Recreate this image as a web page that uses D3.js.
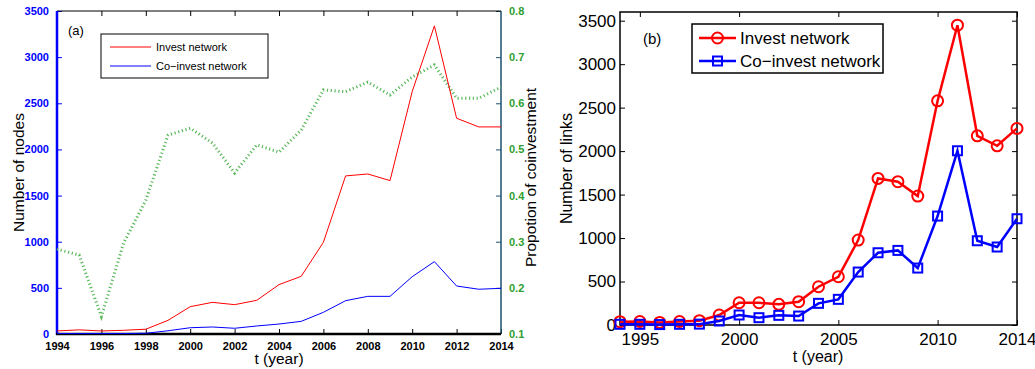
<!DOCTYPE html>
<html>
<head>
<meta charset="utf-8">
<script src="https://cdn.jsdelivr.net/npm/d3@7"></script>
<style>
  body { margin: 0; background: #fff; }
  svg { display: block; }
</style>
</head>
<body>
<div id="chart"></div>
<script>
/* Data */
const years = [1994, 1995, 1996, 1997, 1998, 1999, 2000, 2001, 2002, 2003, 2004,
  2005, 2006, 2007, 2008, 2009, 2010, 2011, 2012, 2013, 2014];

const investNodes = [33, 45, 33, 40, 52, 148, 296, 343, 318, 365, 535,
  625, 994, 1713, 1734, 1662, 2627, 3339, 2338, 2244, 2244];
const coinvestNodes = [5, 5, 5, 5, 8, 35, 68, 76, 62, 87, 108,
  137, 235, 361, 408, 408, 621, 784, 520, 485, 495];
const coinvestShare = [0.284, 0.271, 0.138, 0.297, 0.39, 0.531, 0.546, 0.514, 0.449, 0.51, 0.494,
  0.542, 0.629, 0.625, 0.646, 0.618, 0.657, 0.683, 0.611, 0.611, 0.635];

const investLinks = [38, 40, 30, 40, 50, 115, 256, 256, 238, 268, 440,
  555, 977, 1686, 1648, 1483, 2578, 3448, 2176, 2061, 2261];
const coinvestLinks = [8, 8, 5, 8, 10, 46, 115, 84, 111, 103, 249,
  295, 609, 831, 858, 655, 1253, 2004, 969, 897, 1222];

const aTicksX = [1994, 1996, 1998, 2000, 2002, 2004, 2006, 2008, 2010, 2012, 2014];
const aTicksLeft = [0, 500, 1000, 1500, 2000, 2500, 3000, 3500];
const aTicksRight = [0.1, 0.2, 0.3, 0.4, 0.5, 0.6, 0.7, 0.8];
const bTicksX = [1995, 2000, 2005, 2010, 2014];
const bTicksY = [0, 500, 1000, 1500, 2000, 2500, 3000, 3500];

const legendA = ['Invest network', 'Co\u2212invest network'];
const legendB = ['Invest network', 'Co\u2212invest network'];

const width = 1035;
const height = 369;
const font = 'Liberation Sans, Arial, Helvetica, sans-serif';
const red = '#ff0000';
const blue = '#0000ff';
const green = '#2f9e2f';
const rightAxisColor = '#1d4f6e';

const svg = d3.select('#chart')
  .append('svg')
  .attr('width', width)
  .attr('height', height)
  .style('font-family', font);

/* Helper: inward ticks along an axis */
function styleAxis(g, color, fontSize, fontWeight, textColor) {
  g.select('.domain').remove();
  g.selectAll('line').attr('stroke', color).attr('stroke-width', 1);
  g.selectAll('text')
    .attr('fill', textColor || color)
    .attr('font-size', fontSize)
    .attr('font-weight', fontWeight)
    .attr('font-family', font);
}

/* ---------------- Panel (a) ---------------- */
const a = { left: 57, right: 501, top: 11, bottom: 334 };

const xA = d3.scaleLinear().domain([1994, 2014]).range([a.left, a.right]);
const yA = d3.scaleLinear().domain([0, 3500]).range([a.bottom, a.top]);
const yA2 = d3.scaleLinear().domain([0.1, 0.8]).range([a.bottom, a.top]);

/* Bottom axis */
const axA = svg.append('g')
  .attr('transform', `translate(0,${a.bottom})`)
  .call(d3.axisBottom(xA).tickValues(aTicksX).tickFormat(d3.format('d')).tickSizeInner(-5).tickPadding(8));
styleAxis(axA, '#000', 11, 'bold');

/* Top ticks */
const axATop = svg.append('g')
  .attr('transform', `translate(0,${a.top})`)
  .call(d3.axisTop(xA).tickValues(aTicksX).tickSizeInner(-5).tickFormat(() => ''));
styleAxis(axATop, '#000', 11, 'normal');
axATop.selectAll('.tick').filter((d) => d === 1994 || d === 2014).remove();

/* Left axis */
const ayA = svg.append('g')
  .attr('transform', `translate(${a.left},0)`)
  .call(d3.axisLeft(yA).tickValues(aTicksLeft).tickFormat(d3.format('d')).tickSizeInner(-5).tickPadding(8));
styleAxis(ayA, blue, 11, 'bold');

/* Right axis */
const ayA2 = svg.append('g')
  .attr('transform', `translate(${a.right},0)`)
  .call(d3.axisRight(yA2).tickValues(aTicksRight).tickFormat(d3.format('.1f')).tickSizeInner(-5).tickPadding(8));
styleAxis(ayA2, rightAxisColor, 11, 'bold', green);

/* Box lines */
svg.append('line').attr('x1', a.left).attr('x2', a.right).attr('y1', a.top).attr('y2', a.top)
  .attr('stroke', '#000').attr('stroke-width', 1);
svg.append('line').attr('x1', a.right).attr('x2', a.right).attr('y1', a.top).attr('y2', a.bottom)
  .attr('stroke', rightAxisColor).attr('stroke-width', 1.5);
svg.append('line').attr('x1', a.left).attr('x2', a.left).attr('y1', a.top).attr('y2', a.bottom + 1)
  .attr('stroke', blue).attr('stroke-width', 2.5);
svg.append('line').attr('x1', a.left - 1).attr('x2', a.right).attr('y1', a.bottom).attr('y2', a.bottom)
  .attr('stroke', '#000').attr('stroke-width', 2.5);

/* Series */
const lineA = d3.line().x((d, i) => xA(years[i])).y((d) => yA(d));
const lineA2 = d3.line().x((d, i) => xA(years[i])).y((d) => yA2(d));

svg.append('path').datum(coinvestShare)
  .attr('fill', 'none').attr('stroke', '#5cb85c')
  .attr('stroke-width', 3).attr('stroke-dasharray', '1.2,2.6')
  .attr('d', lineA2);

svg.append('path').datum(investNodes)
  .attr('fill', 'none').attr('stroke', red).attr('stroke-width', 1)
  .attr('d', lineA);

svg.append('path').datum(coinvestNodes)
  .attr('fill', 'none').attr('stroke', blue).attr('stroke-width', 1)
  .attr('d', lineA);

/* Labels */
svg.append('text').attr('x', 68).attr('y', 35)
  .attr('font-size', 13).attr('fill', '#000').text('(a)');

svg.append('text')
  .attr('transform', `translate(24,${(a.top + a.bottom) / 2}) rotate(-90)`)
  .attr('text-anchor', 'middle').attr('font-size', 15.5).attr('fill', '#000')
  .text('Number of nodes');

svg.append('text')
  .attr('transform', `translate(536,${(a.top + a.bottom) / 2 + 5}) rotate(-90)`)
  .attr('text-anchor', 'middle').attr('font-size', 15.5).attr('fill', '#000')
  .text('Propotion of coinvestment');

svg.append('text')
  .attr('x', (a.left + a.right) / 2).attr('y', 364)
  .attr('text-anchor', 'middle').attr('font-size', 15.5).attr('fill', '#000')
  .text('t (year)');

/* Legend (a) */
const legA = svg.append('g').attr('transform', 'translate(101,34)');
legA.append('rect').attr('width', 167).attr('height', 44)
  .attr('fill', '#fff').attr('stroke', '#000').attr('stroke-width', 1);
legA.selectAll('g.item')
  .data(legendA)
  .join('g')
  .attr('class', 'item')
  .attr('transform', (d, i) => `translate(0,${13 + i * 19})`)
  .each(function (d, i) {
    const g = d3.select(this);
    g.append('line').attr('x1', 9).attr('x2', 50).attr('y1', 0).attr('y2', 0)
      .attr('stroke', i === 0 ? red : blue).attr('stroke-width', 1);
    g.append('text').attr('x', 55).attr('y', 4)
      .attr('font-size', 11).attr('fill', '#000').text(d);
  });

/* ---------------- Panel (b) ---------------- */
const b = { left: 620, right: 1017, top: 12, bottom: 325 };

const xB = d3.scaleLinear().domain([1994, 2014]).range([b.left, b.right]);
const yB = d3.scaleLinear().domain([0, 3600]).range([b.bottom, b.top]);

const axB = svg.append('g')
  .attr('transform', `translate(0,${b.bottom})`)
  .call(d3.axisBottom(xB).tickValues(bTicksX).tickFormat(d3.format('d')).tickSizeInner(-5).tickPadding(8));
styleAxis(axB, '#000', 17, 'normal');

const axBTop = svg.append('g')
  .attr('transform', `translate(0,${b.top})`)
  .call(d3.axisTop(xB).tickValues(bTicksX).tickSizeInner(-5).tickFormat(() => ''));
styleAxis(axBTop, '#000', 17, 'normal');

const ayB = svg.append('g')
  .attr('transform', `translate(${b.left},0)`)
  .call(d3.axisLeft(yB).tickValues(bTicksY).tickFormat(d3.format('d')).tickSizeInner(-5).tickPadding(4));
styleAxis(ayB, '#000', 17, 'normal');

const ayBRight = svg.append('g')
  .attr('transform', `translate(${b.right},0)`)
  .call(d3.axisRight(yB).tickValues(bTicksY).tickSizeInner(-5).tickFormat(() => ''));
styleAxis(ayBRight, '#000', 17, 'normal');

svg.append('rect')
  .attr('x', b.left).attr('y', b.top)
  .attr('width', b.right - b.left).attr('height', b.bottom - b.top)
  .attr('fill', 'none').attr('stroke', '#000').attr('stroke-width', 1.5);

const lineB = d3.line().x((d, i) => xB(years[i])).y((d) => yB(d));

svg.append('path').datum(investLinks)
  .attr('fill', 'none').attr('stroke', red).attr('stroke-width', 2.5)
  .attr('d', lineB);

svg.selectAll('circle.invest')
  .data(investLinks)
  .join('circle')
  .attr('class', 'invest')
  .attr('cx', (d, i) => xB(years[i]))
  .attr('cy', (d) => yB(d))
  .attr('r', 5.5)
  .attr('fill', 'none').attr('stroke', red).attr('stroke-width', 2);

svg.append('path').datum(coinvestLinks)
  .attr('fill', 'none').attr('stroke', blue).attr('stroke-width', 2.5)
  .attr('d', lineB);

svg.selectAll('rect.coinvest')
  .data(coinvestLinks)
  .join('rect')
  .attr('class', 'coinvest')
  .attr('x', (d, i) => xB(years[i]) - 4.5)
  .attr('y', (d) => yB(d) - 4.5)
  .attr('width', 9).attr('height', 9)
  .attr('fill', 'none').attr('stroke', blue).attr('stroke-width', 2);

svg.append('text').attr('x', 643).attr('y', 44)
  .attr('font-size', 15).attr('fill', '#000').text('(b)');

svg.append('text')
  .attr('transform', `translate(572,${(b.top + b.bottom) / 2}) rotate(-90)`)
  .attr('text-anchor', 'middle').attr('font-size', 16).attr('fill', '#000')
  .text('Number of links');

svg.append('text')
  .attr('x', 818).attr('y', 362)
  .attr('text-anchor', 'middle').attr('font-size', 16).attr('fill', '#000')
  .text('t (year)');

/* Legend (b) */
const legB = svg.append('g').attr('transform', 'translate(692,24)');
legB.append('rect').attr('width', 191).attr('height', 49)
  .attr('fill', '#fff').attr('stroke', '#000').attr('stroke-width', 1.5);
legB.selectAll('g.item')
  .data(legendB)
  .join('g')
  .attr('class', 'item')
  .attr('transform', (d, i) => `translate(0,${14 + i * 23})`)
  .each(function (d, i) {
    const g = d3.select(this);
    const c = i === 0 ? red : blue;
    g.append('line').attr('x1', 7).attr('x2', 44).attr('y1', 0).attr('y2', 0)
      .attr('stroke', c).attr('stroke-width', 2.5);
    if (i === 0) {
      g.append('circle').attr('cx', 25.5).attr('cy', 0).attr('r', 5.5)
        .attr('fill', 'none').attr('stroke', c).attr('stroke-width', 2);
    } else {
      g.append('rect').attr('x', 21).attr('y', -4.5).attr('width', 9).attr('height', 9)
        .attr('fill', 'none').attr('stroke', c).attr('stroke-width', 2);
    }
    g.append('text').attr('x', 48).attr('y', 6)
      .attr('font-size', 17).attr('fill', '#000').text(d);
  });
</script>
</body>
</html>
